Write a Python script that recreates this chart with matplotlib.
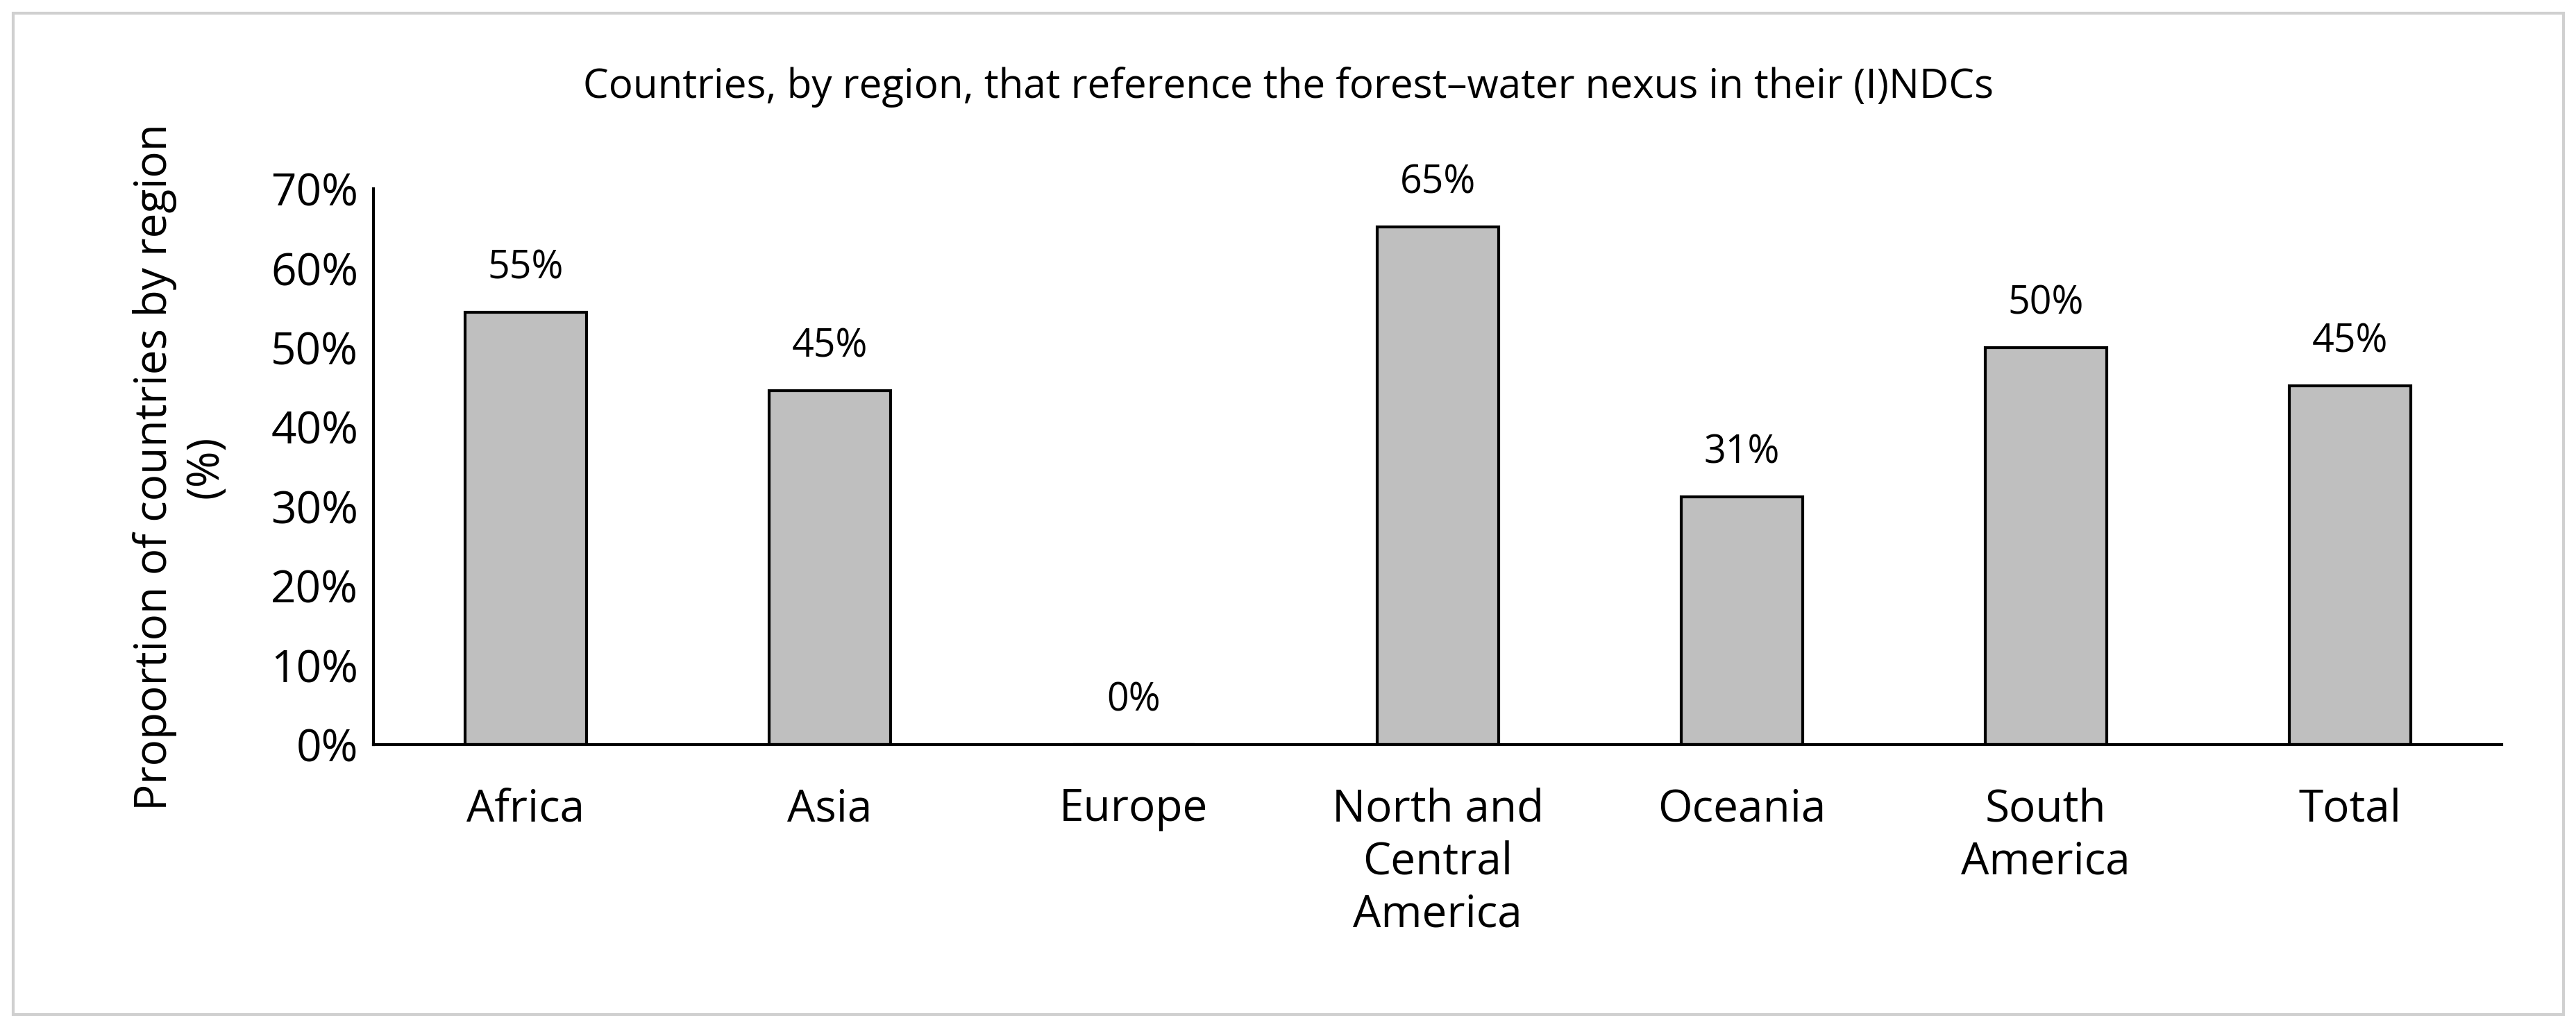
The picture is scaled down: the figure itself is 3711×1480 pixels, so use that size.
import matplotlib.pyplot as plt
from matplotlib.patches import Rectangle
from matplotlib.ticker import PercentFormatter

regions = ["Africa", "Asia", "Europe", "North and\nCentral\nAmerica", "Oceania", "South\nAmerica", "Total"]
shares = [54.5, 44.6, 0.0, 65.2, 31.2, 50.0, 45.2]
labels = ["55%", "45%", "0%", "65%", "31%", "50%", "45%"]

plt.rcParams['font.family'] = ['Open Sans', 'DejaVu Sans']

fig = plt.figure(figsize=(18.56, 7.4), dpi=200)
# light grey frame around the chart
fig.patches.append(Rectangle((0.005, 0.012), 0.99, 0.975, transform=fig.transFigure,
                             fill=False, edgecolor="#d0d0d0", linewidth=1.5))
ax = fig.add_axes([0.145, 0.275, 0.826, 0.541])

x = range(len(regions))
ax.bar(x, shares, width=0.4, color="#bfbfbf", edgecolor="black", linewidth=1.5)
for i, (v, lab) in enumerate(zip(shares, labels)):
    ax.text(i, v + 3, lab, ha="center", va="bottom", fontsize=20)

ax.set_xlim(-0.5, len(regions) - 0.5)
ax.set_ylim(0, 70)
ax.set_yticks(range(0, 71, 10))
ax.yaxis.set_major_formatter(PercentFormatter(decimals=0))
ax.set_xticks(list(x))
ax.set_xticklabels(regions, fontsize=23, linespacing=1.25)
ax.tick_params(axis="y", labelsize=23, length=0, pad=8)
ax.tick_params(axis="x", length=0, pad=22)
for s in ["top", "right"]:
    ax.spines[s].set_visible(False)
ax.spines["left"].set_linewidth(1.5)
ax.spines["bottom"].set_linewidth(1.5)

ax.set_ylabel("Proportion of countries by region\n(%)", fontsize=23, labelpad=22)
fig.text(0.5, 0.915, "Countries, by region, that reference the forest\u2013water nexus in their (I)NDCs",
         ha="center", va="center", fontsize=21)

fig.savefig("out.png", dpi=200, facecolor="white")
